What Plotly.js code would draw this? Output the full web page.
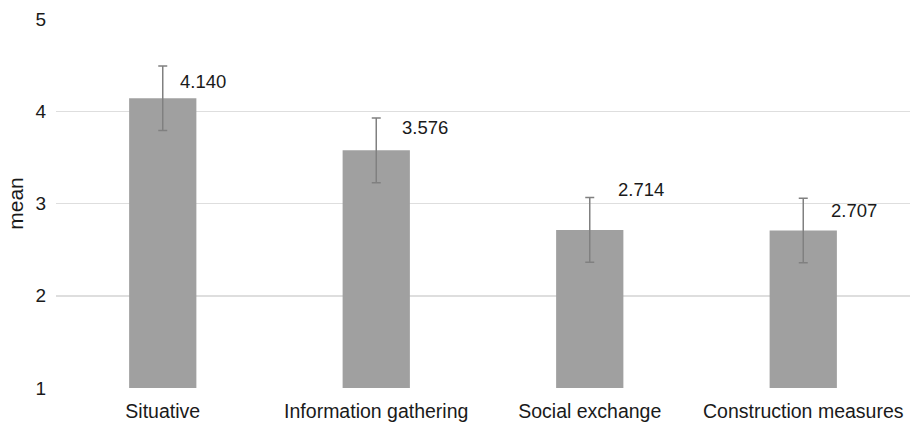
<!DOCTYPE html>
<html><head><meta charset="utf-8">
<script src="https://cdn.plot.ly/plotly-3.0.1.min.js"></script>
<style>html,body{margin:0;padding:0;background:#fff}#chart{width:913px;height:422px}</style>
</head><body><div id="chart"></div>
<script>
const categories = ["Situative", "Information gathering", "Social exchange", "Construction measures"];
const means = [4.140, 3.576, 2.714, 2.707];
const errors = [0.35, 0.35, 0.35, 0.35];
const yTicks = [1, 2, 3, 4, 5];

// label placement styling (pixel offsets from bar top)
const labelDx = [15, 24, 26, 26];
const labelDy = [17, 23, 40, 20];

const FONT = "Liberation Sans, Arial, sans-serif";

const trace = {
  type: "bar", x: categories, y: means,
  marker: {color: "#a0a0a0"},
  error_y: {type: "data", array: errors, visible: true, color: "#808080", thickness: 1.5, width: 4.5},
  hoverinfo: "none"
};

const annotations = categories.map((c, i) => ({
  x: c, y: means[i], xref: "x", yref: "y",
  text: means[i].toFixed(3), showarrow: false,
  xanchor: "left", yanchor: "middle",
  xshift: labelDx[i], yshift: labelDy[i],
  font: {family: FONT, size: 18.5, color: "#1a1a1a"}
}));

const layout = {
  width: 913, height: 422,
  margin: {l: 56, r: 3, t: 19, b: 34},
  paper_bgcolor: "#fff", plot_bgcolor: "#fff",
  showlegend: false, bargap: 0.685,
  font: {family: FONT, size: 19, color: "#1a1a1a"},
  xaxis: {type: "category", showgrid: false, zeroline: false, showline: false,
    ticks: "", ticklabelstandoff: 9, tickfont: {family: FONT, size: 19.5, color: "#1a1a1a"}},
  yaxis: {range: [1, 5], tickvals: yTicks, ticktext: yTicks.map(String),
    showgrid: true, gridcolor: "#dedede", gridwidth: 1.5,
    zeroline: false, showline: false, ticks: "", ticklabelstandoff: 9,
    tickfont: {family: FONT, size: 19, color: "#1a1a1a"},
    title: {text: "mean", font: {family: FONT, size: 21, color: "#1a1a1a"}, standoff: 6}},
  annotations: annotations
};

Plotly.newPlot("chart", [trace], layout, {displayModeBar: false, staticPlot: true});
</script>
</body></html>
